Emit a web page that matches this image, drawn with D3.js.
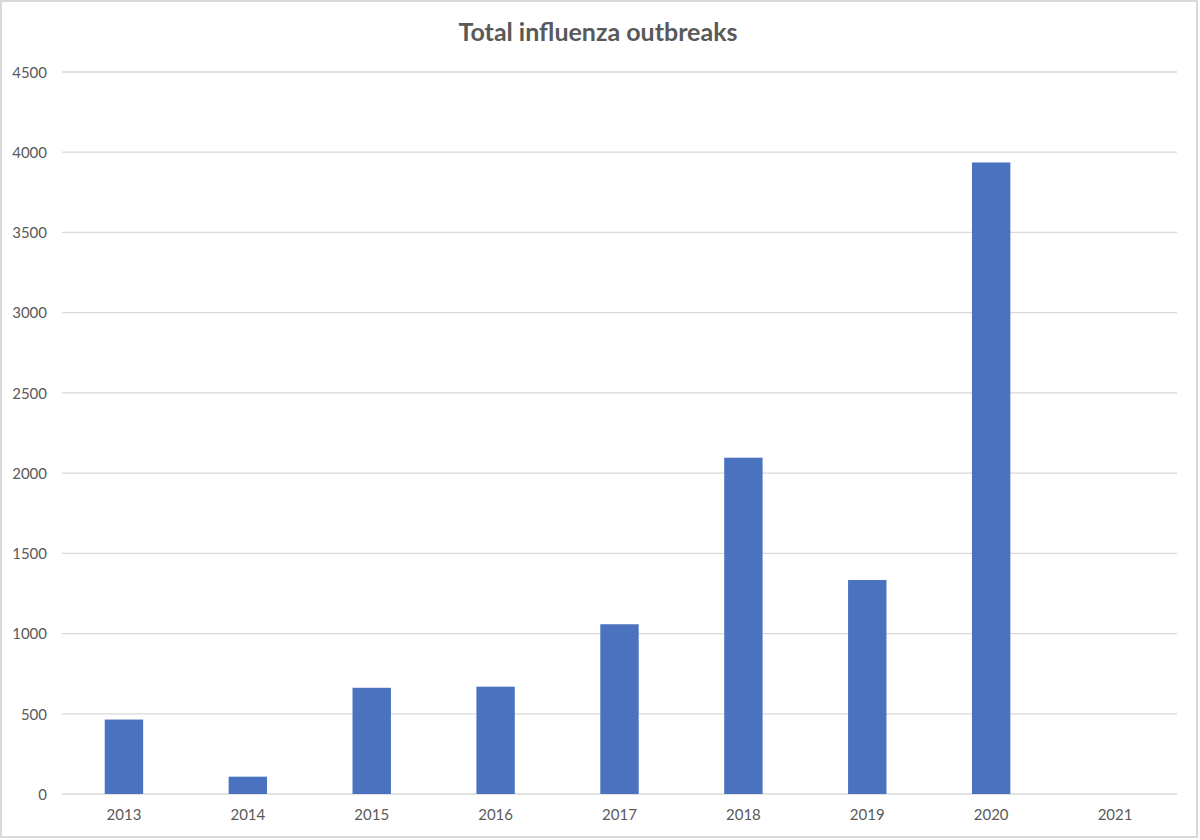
<!DOCTYPE html>
<html>
<head>
<meta charset="utf-8">
<script src="https://cdn.jsdelivr.net/npm/d3@7"></script>
<style>
  html, body { margin: 0; padding: 0; background: #fff; }
  svg { display: block; }
</style>
</head>
<body>
<svg id="chart" width="1200" height="840"></svg>
<script>
const title = "Total influenza outbreaks";
const years = ["2013", "2014", "2015", "2016", "2017", "2018", "2019", "2020", "2021"];
const outbreaks = [464, 108, 662, 669, 1058, 2096, 1334, 3936, 0];
const yTicks = [0, 500, 1000, 1500, 2000, 2500, 3000, 3500, 4000, 4500];

const svg = d3.select("#chart");
const W = 1200, H = 840;
const plot = { left: 62, right: 1177, top: 72, bottom: 794 };

// outer border
svg.append("rect")
  .attr("x", 1).attr("y", 1).attr("width", W - 4).attr("height", H - 4)
  .attr("fill", "#fff").attr("stroke", "#d9d9d9").attr("stroke-width", 2);

const x = d3.scaleBand().domain(years).range([plot.left, plot.right]).paddingInner(0.69).paddingOuter(0.345);
const y = d3.scaleLinear().domain([0, 4500]).range([plot.bottom, plot.top]);

// gridlines
svg.append("g").selectAll("line").data(yTicks).join("line")
  .attr("x1", plot.left).attr("x2", plot.right)
  .attr("y1", d => y(d)).attr("y2", d => y(d))
  .attr("stroke", "#d9d9d9").attr("stroke-width", 1.3);

// y axis labels
const yAxis = d3.axisLeft(y).tickValues(yTicks).tickSize(0).tickPadding(0).tickFormat(d3.format("d"));
const gy = svg.append("g").attr("transform", `translate(${plot.left - 15},0)`).call(yAxis);
gy.select(".domain").remove();
gy.selectAll("text")
  .attr("fill", "#595959").attr("font-family", "Lato, 'Open Sans', sans-serif").attr("font-size", 15)
  .attr("dy", "0.35em");

// bars
svg.append("g").selectAll("rect").data(years.map((k, i) => ({ k, v: outbreaks[i] }))).join("rect")
  .attr("x", d => x(d.k)).attr("width", x.bandwidth())
  .attr("y", d => y(d.v)).attr("height", d => y(0) - y(d.v))
  .attr("fill", "#4a72bf");

// x axis labels
const xAxis = d3.axisBottom(x).tickSize(0).tickPadding(0);
const gx = svg.append("g").attr("transform", `translate(0,${plot.bottom + 15})`).call(xAxis);
gx.select(".domain").remove();
gx.selectAll("text")
  .attr("fill", "#595959").attr("font-family", "Lato, 'Open Sans', sans-serif").attr("font-size", 15)
  .attr("dy", "0.71em");

// title
svg.append("text")
  .attr("x", 598).attr("y", 41).attr("text-anchor", "middle")
  .attr("font-family", "Lato, 'Open Sans', sans-serif").attr("font-weight", "bold").attr("font-size", 25)
  .attr("fill", "#595959").text(title);
</script>
</body>
</html>
